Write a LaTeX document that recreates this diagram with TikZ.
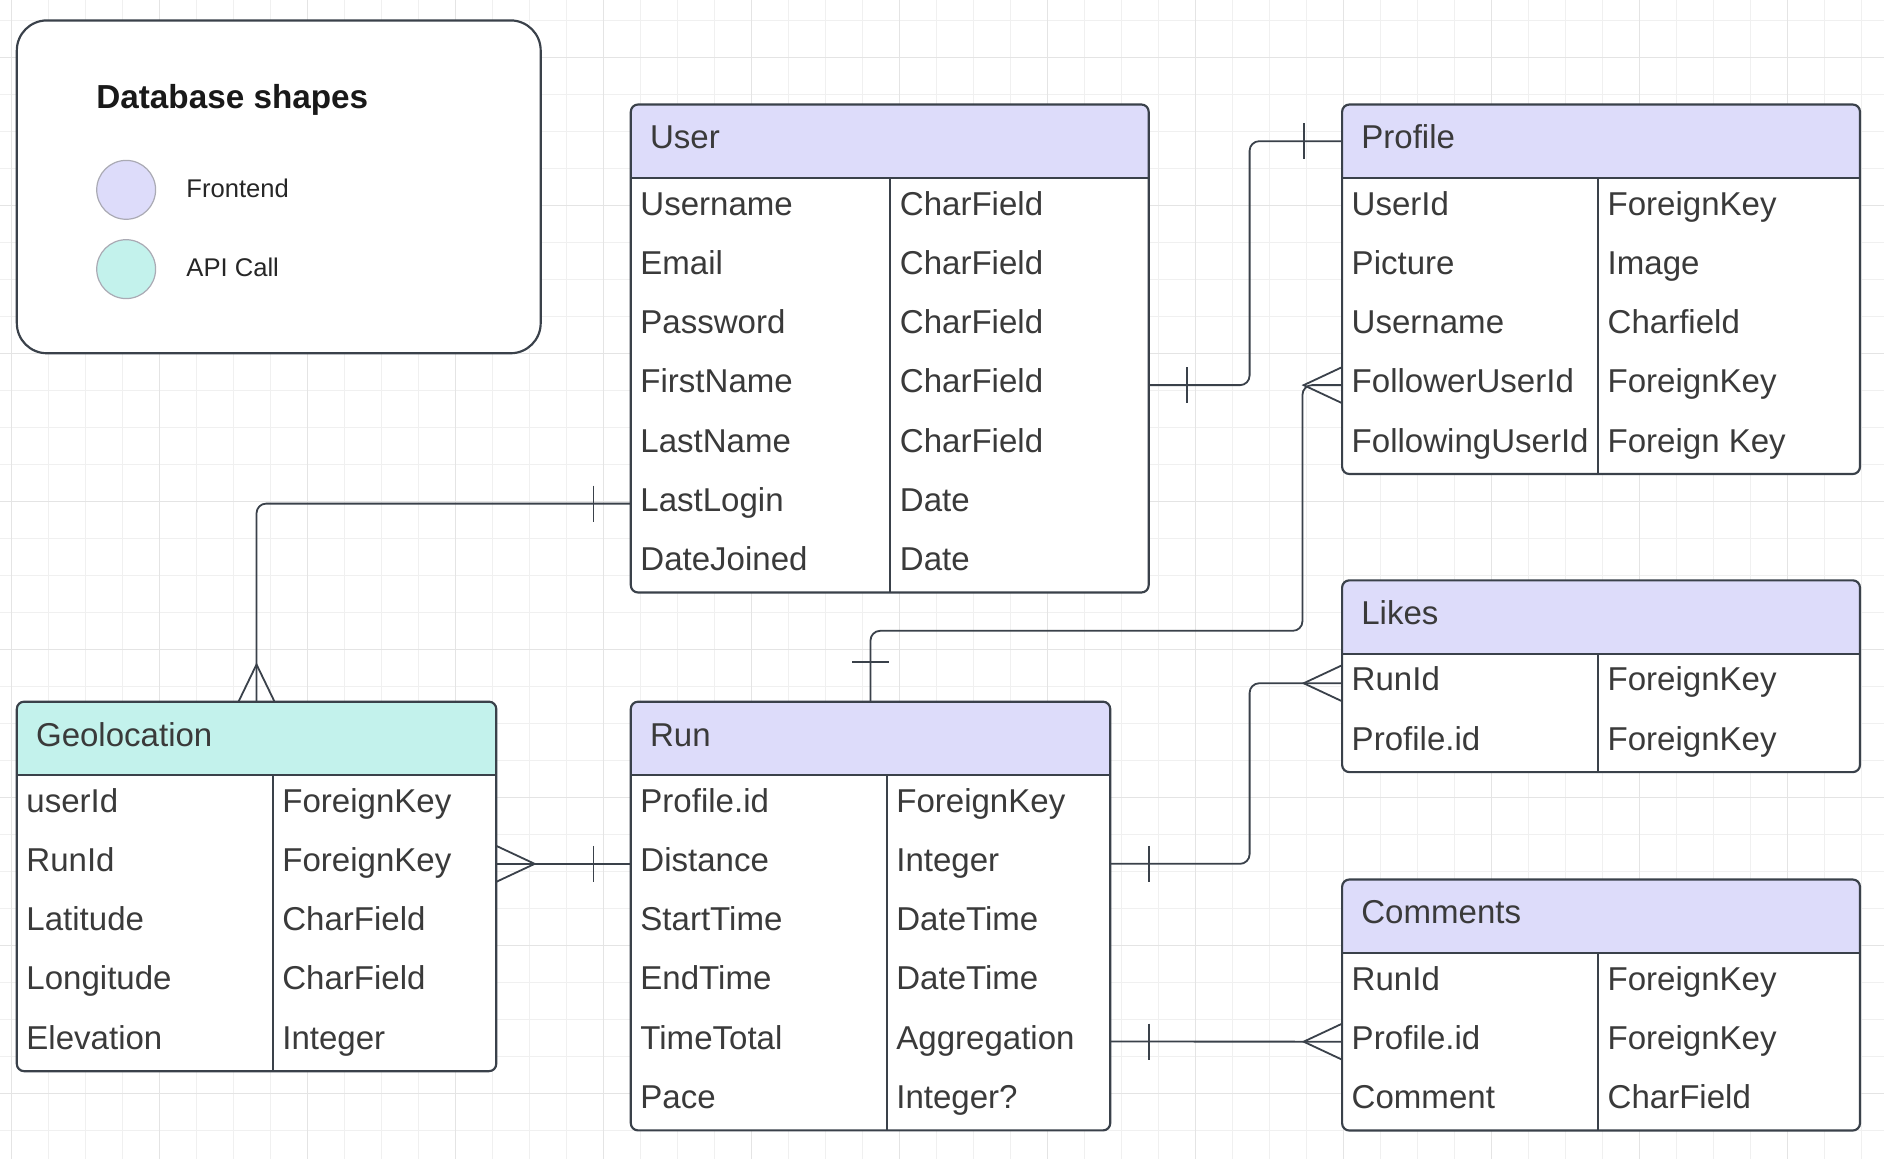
\documentclass[tikz,border=0pt]{standalone}
\usepackage{fontspec}
\setmainfont{Liberation Sans}
\usetikzlibrary{calc}
\definecolor{lav}{RGB}{221,220,250}
\definecolor{mint}{RGB}{195,242,236}
\definecolor{linec}{RGB}{58,65,74}
\definecolor{txtc}{RGB}{58,58,58}
\definecolor{gridminor}{RGB}{240,240,240}
\definecolor{gridmajor}{RGB}{228,228,228}
\definecolor{circc}{RGB}{170,170,180}

\tikzset{
  ertext/.style={font=\fontsize{27.5}{30}\selectfont, text=txtc, inner sep=0pt, outer sep=0pt},
  tableframe/.style={draw=linec, line width=1.8pt, rounded corners=6pt, inner sep=0pt, outer sep=0pt},
  conn/.style={draw=linec, line width=1.5pt, rounded corners=8pt},
  endbar/.style={draw=linec, line width=1.5pt},
  inner line/.style={draw=linec, line width=1.6pt},
}

% #1 name, #2 x1, #3 x2, #4 top, #5 divider x, #6 header fill, #7 title, #8 rows, #9 number of rows
\newcommand\ertable[9]{%
  \pgfmathsetmacro\erthb{#4+61}%
  \pgfmathsetmacro\ertbot{#4+61+49.3*#9}%
  \pgfmathsetmacro\ertw{#3-#2}%
  \pgfmathsetmacro\erth{61+49.3*#9}%
  \fill[white, rounded corners=6pt] (#2,#4) rectangle (#3,\ertbot);
  \fill[#6, rounded corners=6pt] (#2,#4) rectangle (#3,\erthb);
  \fill[#6] (#2,\erthb-12) rectangle (#3,\erthb);
  \draw[inner line] (#2,\erthb) -- (#3,\erthb);
  \draw[inner line] (#5,\erthb) -- (#5,\ertbot);
  \node[tableframe, minimum width=\ertw pt, minimum height=\erth pt, anchor=north west] (#1) at (#2,#4) {};
  \node[ertext, anchor=base west] (#1-title) at (#2+16,#4+37) {#7};
  \coordinate (#1-hw) at (#2,#4+30.5);
  \coordinate (#1-he) at (#3,#4+30.5);
  \foreach \colA/\colB [count=\rowi] in {#8} {
    \pgfmathsetmacro\ertrow{\erthb+49.3*(\rowi-1)}
    \node[ertext, anchor=base west] (#1-\rowi-a) at (#2+8,\ertrow+31) {\colA};
    \node[ertext, anchor=base west] (#1-\rowi-b) at (#5+8,\ertrow+31) {\colB};
    \coordinate (#1-\rowi-w) at (#2,\ertrow+24.65);
    \coordinate (#1-\rowi-e) at (#3,\ertrow+24.65);
  }
}
% crow's foot for a connector entering a box edge
\newcommand\crowfromleft[1]{\draw[endbar] ($(#1)+(0,-15)$) -- ($(#1)+(-32,0)$) -- ($(#1)+(0,15)$);}
\newcommand\crowfromright[1]{\draw[endbar] ($(#1)+(0,-15)$) -- ($(#1)+(32,0)$) -- ($(#1)+(0,15)$);}
\newcommand\crowfromtop[1]{\draw[endbar] ($(#1)+(-15,0)$) -- ($(#1)+(0,-31)$) -- ($(#1)+(15,0)$);}

\begin{document}
\begin{tikzpicture}[x=1pt, y=-1pt]
\useasboundingbox (0,0) rectangle (1568,965);
\fill[white] (0,0) rectangle (1568,965);
% grid
\foreach \gi in {0,...,50} {\draw[gridminor, line width=0.7pt] (9.15+30.795*\gi,0) -- (9.15+30.795*\gi,965);}
\foreach \gj in {0,...,30} {\draw[gridminor, line width=0.7pt] (0,16.9+30.795*\gj) -- (1568,16.9+30.795*\gj);}
\foreach \gi in {0,4,...,48} {\draw[gridmajor, line width=0.8pt] (9.15+30.795*\gi,0) -- (9.15+30.795*\gi,965);}
\foreach \gj in {1,5,...,29} {\draw[gridmajor, line width=0.8pt] (0,16.9+30.795*\gj) -- (1568,16.9+30.795*\gj);}

% legend
\node[draw=linec, line width=1.8pt, rounded corners=25pt, minimum width=436pt, minimum height=277pt,
      anchor=north west, inner sep=0pt, outer sep=0pt, fill=white] (legend) at (14,17) {};
\node[font=\bfseries\fontsize{27.7}{30}\selectfont, anchor=base west, inner sep=0pt, text=black!90] (legend-title) at (80,90.5) {Database shapes};
\node[circle, draw=circc, line width=1pt, fill=lav, minimum size=49pt, inner sep=0pt] (leg-front) at (105,158) {};
\node[circle, draw=circc, line width=1pt, fill=mint, minimum size=49pt, inner sep=0pt] (leg-api) at (105,224) {};
\node[font=\fontsize{21.3}{24}\selectfont, anchor=base west, inner sep=0pt, text=black!85] (leg-front-t) at (155,164.3) {Frontend};
\node[font=\fontsize{21.3}{24}\selectfont, anchor=base west, inner sep=0pt, text=black!85] (leg-api-t) at (155,230.3) {API Call};

% tables
\ertable{user}{525}{956}{87}{741}{lav}{User}{Username/CharField, Email/CharField, Password/CharField, FirstName/CharField, LastName/CharField, LastLogin/Date, DateJoined/Date}{7}
\ertable{profile}{1117}{1548}{87}{1330}{lav}{Profile}{UserId/ForeignKey, Picture/Image, Username/Charfield, FollowerUserId/ForeignKey, FollowingUserId/Foreign Key}{5}
\ertable{likes}{1117}{1548}{483}{1330}{lav}{Likes}{RunId/ForeignKey, Profile.id/ForeignKey}{2}
\ertable{comments}{1117}{1548}{732}{1330}{lav}{Comments}{RunId/ForeignKey, Profile.id/ForeignKey, Comment/CharField}{3}
\ertable{geo}{14}{413}{584}{227}{mint}{Geolocation}{userId/ForeignKey, RunId/ForeignKey, Latitude/CharField, Longitude/CharField, Elevation/Integer}{5}
\ertable{run}{525}{924}{584}{738}{lav}{Run}{Profile.id/ForeignKey, Distance/Integer, StartTime/DateTime, EndTime/DateTime, TimeTotal/Aggregation, Pace/Integer?}{6}

% connectors
% User -- Profile
\draw[conn] (user-4-e) -- ++(84,0) |- (profile-hw);
\draw[endbar] ($(user-4-e)+(32,-15)$) -- ++(0,30);
\draw[endbar] ($(profile-hw)+(-32,-15)$) -- ++(0,30);
% User -- Geolocation
\draw[conn] (user-6-w) -| (geo.north);
\draw[endbar] ($(user-6-w)+(-31,-15)$) -- ++(0,30);
\crowfromtop{geo.north}
% Run -- Profile
\draw[conn] (run.north) -- ++(0,-59) -| ($(profile-4-w)+(-33,0)$) -- (profile-4-w);
\draw[endbar] ($(run.north)+(-15,-33)$) -- ++(30,0);
\crowfromleft{profile-4-w}
% Run -- Geolocation
\draw[conn] (run-2-w) -- (geo-2-e);
\draw[endbar] ($(run-2-w)+(-31,-15)$) -- ++(0,30);
\crowfromright{geo-2-e}
% Run -- Likes
\draw[conn] (run-2-e) -- ++(116,0) |- (likes-1-w);
\draw[endbar] ($(run-2-e)+(32,-15)$) -- ++(0,30);
\crowfromleft{likes-1-w}
% Run -- Comments
\draw[conn] (run-5-e) -- (comments-2-w);
\draw[endbar] ($(run-5-e)+(32,-15)$) -- ++(0,30);
\crowfromleft{comments-2-w}
\end{tikzpicture}
\end{document}
